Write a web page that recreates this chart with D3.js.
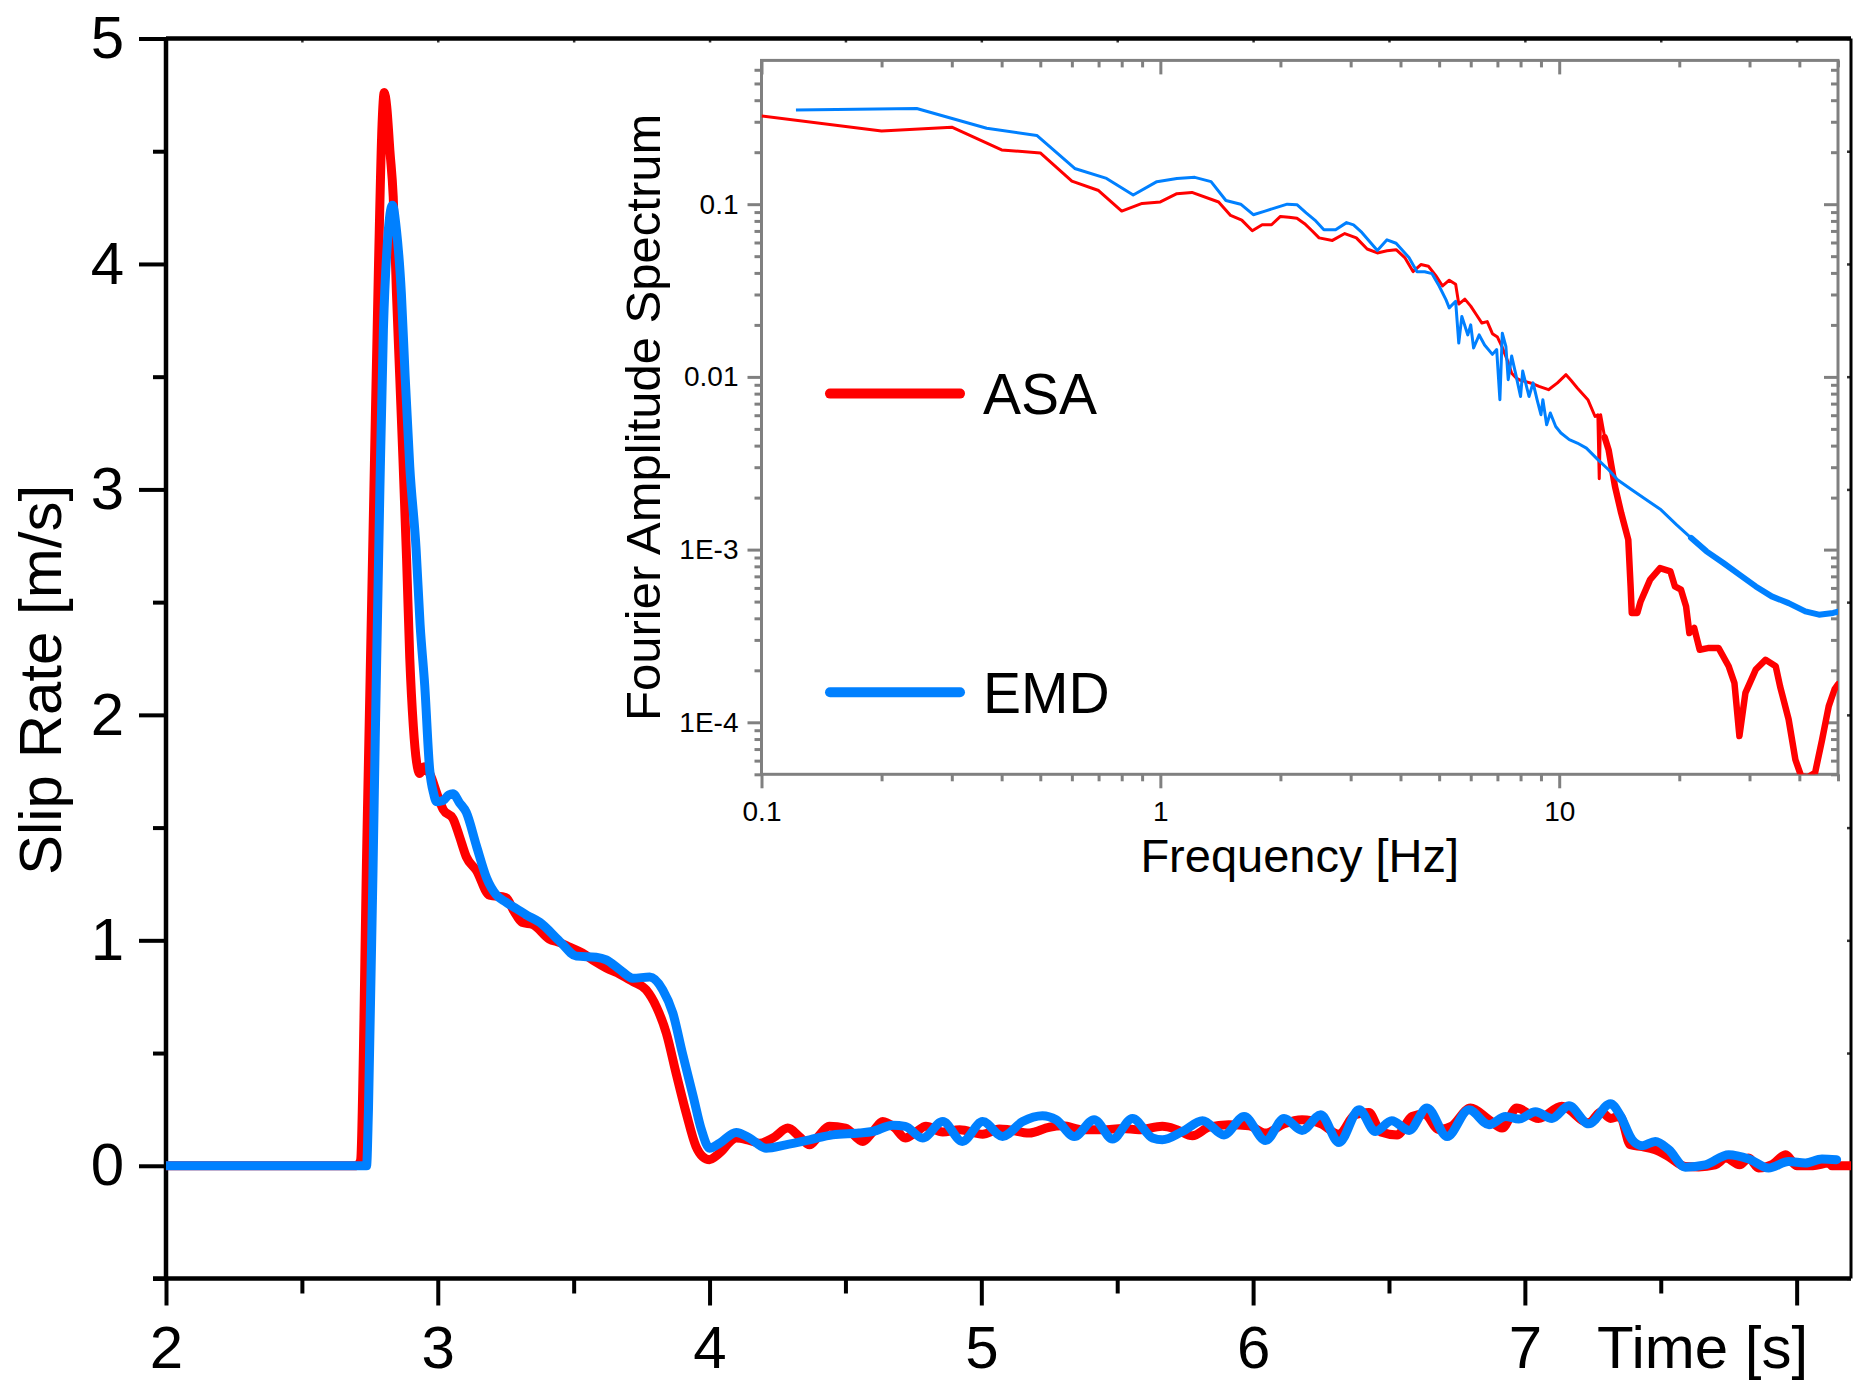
<!DOCTYPE html>
<html>
<head>
<meta charset="utf-8">
<script src="https://cdn.jsdelivr.net/npm/d3@7"></script>
<style>
  html, body { margin: 0; padding: 0; background: #fff; }
  svg { display: block; font-family: "Liberation Sans", Arial, sans-serif; }
</style>
</head>
<body>
<div id="chart"></div>
<script>
// slip rate time series [time s, slip rate m/s]
const asaSlip = [
  [2.0, 0], [2.70, 0], [2.715, 0.02], [2.74, 1.5], [2.765, 3.0], [2.782, 4.0], [2.795, 4.62],
  [2.803, 4.76], [2.812, 4.7], [2.824, 4.5], [2.836, 4.3], [2.848, 3.87], [2.86, 3.5],
  [2.872, 3.13], [2.885, 2.7], [2.897, 2.25], [2.91, 1.95], [2.922, 1.79], [2.934, 1.74],
  [2.95, 1.77], [2.97, 1.74], [3.0, 1.64], [3.02, 1.58], [3.056, 1.54], [3.08, 1.46],
  [3.105, 1.37], [3.142, 1.31], [3.19, 1.2], [3.25, 1.19], [3.28, 1.13], [3.31, 1.08],
  [3.35, 1.07], [3.41, 1.006], [3.449, 0.99], [3.485, 0.97], [3.53, 0.945], [3.58, 0.905],
  [3.62, 0.877], [3.67, 0.85], [3.718, 0.817], [3.767, 0.78], [3.804, 0.706], [3.841, 0.588],
  [3.877, 0.41], [3.914, 0.234], [3.95, 0.086], [3.975, 0.04], [4.0, 0.027], [4.02, 0.04],
  [4.043, 0.063], [4.07, 0.1], [4.098, 0.123], [4.14, 0.115], [4.184, 0.1], [4.233, 0.123],
  [4.288, 0.167], [4.33, 0.13], [4.368, 0.093], [4.4, 0.13], [4.44, 0.175], [4.5, 0.167],
  [4.564, 0.108], [4.6, 0.15], [4.637, 0.196], [4.68, 0.17], [4.72, 0.123], [4.76, 0.15],
  [4.796, 0.175], [4.858, 0.15], [4.92, 0.16], [5.005, 0.14], [5.066, 0.163], [5.1, 0.16],
  [5.176, 0.145], [5.25, 0.171], [5.3, 0.177], [5.372, 0.16], [5.446, 0.16], [5.52, 0.165],
  [5.58, 0.16], [5.666, 0.175], [5.72, 0.16], [5.777, 0.133], [5.838, 0.171], [5.91, 0.182],
  [5.985, 0.177], [6.046, 0.145], [6.114, 0.186], [6.18, 0.204], [6.25, 0.186], [6.316, 0.14],
  [6.375, 0.226], [6.426, 0.236], [6.47, 0.15], [6.53, 0.137], [6.585, 0.219], [6.63, 0.23],
  [6.684, 0.16], [6.73, 0.175], [6.8, 0.256], [6.868, 0.204], [6.916, 0.167], [6.97, 0.256],
  [7.05, 0.21], [7.136, 0.264], [7.235, 0.19], [7.28, 0.24], [7.315, 0.21], [7.35, 0.22],
  [7.388, 0.093], [7.432, 0.085], [7.48, 0.071], [7.53, 0.04], [7.59, -0.003], [7.64, -0.005],
  [7.7, 0.004], [7.74, 0.034], [7.79, 0.004], [7.824, 0.034], [7.86, -0.01], [7.91, 0.005],
  [7.96, 0.049], [8.0, 0.0], [8.06, 0.0], [8.118, 0.012], [8.13, 0.0], [8.2, 0.0]
];

const emdSlip = [
  [2.0, 0], [2.738, 0], [2.745, 0.25], [2.77, 1.9], [2.787, 3.0], [2.8, 3.71], [2.815, 4.1],
  [2.833, 4.26], [2.848, 4.15], [2.866, 3.87], [2.88, 3.5], [2.897, 3.1], [2.92, 2.74],
  [2.935, 2.4], [2.952, 2.13], [2.97, 1.76], [2.985, 1.65], [2.995, 1.615], [3.02, 1.62],
  [3.04, 1.645], [3.056, 1.65], [3.08, 1.61], [3.105, 1.567], [3.142, 1.42], [3.18, 1.275],
  [3.216, 1.2], [3.25, 1.17], [3.29, 1.14], [3.33, 1.11], [3.375, 1.08], [3.449, 0.995],
  [3.51, 0.93], [3.583, 0.925], [3.62, 0.913], [3.67, 0.87], [3.718, 0.832], [3.78, 0.837],
  [3.828, 0.78], [3.865, 0.677], [3.9, 0.5], [3.94, 0.307], [3.97, 0.16], [4.0, 0.078],
  [4.037, 0.1], [4.098, 0.148], [4.147, 0.123], [4.208, 0.078], [4.28, 0.093], [4.368, 0.115],
  [4.453, 0.137], [4.55, 0.145], [4.6, 0.152], [4.674, 0.18], [4.72, 0.175], [4.784, 0.123],
  [4.858, 0.196], [4.93, 0.108], [5.005, 0.196], [5.078, 0.13], [5.152, 0.196], [5.225, 0.222],
  [5.275, 0.204], [5.342, 0.13], [5.415, 0.204], [5.483, 0.119], [5.556, 0.21], [5.63, 0.123],
  [5.666, 0.115], [5.74, 0.152], [5.814, 0.2], [5.893, 0.137], [5.967, 0.219], [6.046, 0.112],
  [6.114, 0.21], [6.18, 0.157], [6.249, 0.226], [6.316, 0.103], [6.39, 0.248], [6.45, 0.152],
  [6.51, 0.2], [6.574, 0.157], [6.64, 0.256], [6.714, 0.13], [6.794, 0.248], [6.868, 0.182],
  [6.929, 0.219], [6.978, 0.207], [7.039, 0.24], [7.1, 0.21], [7.162, 0.266], [7.235, 0.186],
  [7.315, 0.275], [7.35, 0.226], [7.395, 0.115], [7.432, 0.089], [7.48, 0.108], [7.53, 0.071],
  [7.59, -0.006], [7.664, 0.004], [7.75, 0.049], [7.824, 0.03], [7.897, -0.01], [7.97, 0.019],
  [8.032, 0.012], [8.093, 0.03], [8.147, 0.027]
];

// Fourier amplitude spectra [frequency Hz, amplitude]
const asaSpectrum = [
  [0.1, 0.324], [0.2, 0.265], [0.3, 0.279], [0.4, 0.206], [0.5, 0.198], [0.6, 0.136],
  [0.7, 0.12], [0.8, 0.0912], [0.9, 0.101], [1.0, 0.103], [1.1, 0.115], [1.2, 0.117],
  [1.4, 0.103], [1.5, 0.0861], [1.6, 0.0809], [1.7, 0.0702], [1.8, 0.076], [1.9, 0.076],
  [2.0, 0.0849], [2.1, 0.0841], [2.2, 0.0828], [2.3, 0.0771], [2.4, 0.0702], [2.5, 0.0638],
  [2.7, 0.0617], [2.9, 0.0676], [3.1, 0.0638], [3.3, 0.055], [3.5, 0.0522], [3.7, 0.0537],
  [3.9, 0.0545], [4.1, 0.0491], [4.3, 0.0407], [4.5, 0.0447], [4.7, 0.0437], [4.9, 0.0387],
  [5.1, 0.0336], [5.3, 0.0363], [5.5, 0.0344], [5.6, 0.0264], [5.8, 0.0282], [6.0, 0.0257],
  [6.2, 0.0229], [6.4, 0.0205], [6.6, 0.0209], [6.8, 0.0178], [7.0, 0.017], [7.2, 0.0148],
  [7.4, 0.0126], [7.6, 0.0105], [7.8, 0.00986], [8.0, 0.00955], [8.2, 0.00942], [8.6, 0.00912],
  [8.9, 0.00881], [9.4, 0.00843], [9.9, 0.00923], [10.4, 0.0103], [10.7, 0.00955],
  [11.1, 0.00863], [11.8, 0.00738], [12.3, 0.0059], [12.5, 0.00603], [12.6, 0.00257],
  [12.7, 0.00603], [13.0, 0.00447], [13.3, 0.00378], [13.8, 0.00232], [14.3, 0.00163],
  [14.9, 0.00114], [15.1, 0.000612], [15.2, 0.00043], [15.7, 0.00043], [16.0, 0.000501],
  [16.9, 0.00067], [17.9, 0.000782], [19.0, 0.000748], [19.5, 0.000612], [20.2, 0.000586],
  [20.8, 0.000469], [21.2, 0.000329], [21.8, 0.000352], [22.5, 0.000263], [23.6, 0.000269],
  [25.1, 0.000269], [26.6, 0.000211], [27.5, 0.000169], [28.3, 0.0000832], [29.3, 0.000148],
  [31.1, 0.000202], [32.9, 0.00023], [34.9, 0.000211], [35.8, 0.000161], [37.6, 0.000104],
  [39.1, 0.0000607], [40.4, 0.000049], [42.0, 0.000048], [43.8, 0.000051], [45.6, 0.000079],
  [47.4, 0.000124], [49.0, 0.000155], [50.0, 0.000166]
];

const emdSpectrum = [
  [0.122, 0.351], [0.245, 0.358], [0.367, 0.275], [0.49, 0.25], [0.61, 0.161], [0.733, 0.141],
  [0.855, 0.113], [0.98, 0.135], [1.1, 0.141], [1.22, 0.143], [1.34, 0.135], [1.46, 0.105],
  [1.59, 0.1], [1.71, 0.0869], [1.83, 0.0912], [1.95, 0.0955], [2.08, 0.1], [2.2, 0.0993],
  [2.32, 0.0891], [2.44, 0.0809], [2.57, 0.0711], [2.75, 0.0711], [2.93, 0.0782],
  [3.05, 0.0759], [3.2, 0.0686], [3.5, 0.054], [3.7, 0.0622], [3.9, 0.0594], [4.2, 0.0491],
  [4.4, 0.0406], [4.6, 0.0406], [4.8, 0.0396], [5.0, 0.0336], [5.2, 0.028], [5.3, 0.0251],
  [5.5, 0.0274], [5.6, 0.0157], [5.7, 0.0224], [5.9, 0.0175], [6.0, 0.02], [6.1, 0.0147],
  [6.3, 0.0175], [6.5, 0.0153], [6.8, 0.0135], [6.97, 0.0144], [7.1, 0.00738], [7.2, 0.0179],
  [7.35, 0.015], [7.45, 0.00964], [7.6, 0.0132], [7.8, 0.0101], [8.0, 0.0077], [8.1, 0.0108],
  [8.4, 0.0077], [8.6, 0.00923], [8.8, 0.00738], [9.0, 0.00604], [9.1, 0.00738], [9.3, 0.00528],
  [9.5, 0.00618], [9.8, 0.00516], [10.1, 0.00473], [10.6, 0.00433], [11.1, 0.00414],
  [11.7, 0.00387], [12.5, 0.00332], [13.3, 0.0029], [14.0, 0.00254], [15.2, 0.00222],
  [16.5, 0.00195], [18.0, 0.0017], [19.7, 0.00139], [21.4, 0.00117], [23.4, 0.000977],
  [25.8, 0.000836], [28.3, 0.000716], [31.1, 0.000612], [34.1, 0.000536], [37.6, 0.00049],
  [41.4, 0.000439], [44.8, 0.00042], [48.6, 0.00043], [50.0, 0.000437]
];

const seriesNames = ["ASA", "EMD"];
const seriesColors = ["#ff0000", "#0080ff"];
const timeTicks = [2, 3, 4, 5, 6, 7, 8];
const slipTicks = [0, 1, 2, 3, 4, 5];
const freqTicks = [0.1, 1, 10];
const freqTickLabels = ["0.1", "1", "10"];
const ampTicks = [0.1, 0.01, 0.001, 0.0001];
const ampTickLabels = ["0.1", "0.01", "1E-3", "1E-4"];

const W = 1853, H = 1383;
const svg = d3.select("#chart").append("svg").attr("width", W).attr("height", H);
svg.append("rect").attr("width", W).attr("height", H).attr("fill", "#fff");

// ---------- main plot ----------
const plot = { left: 166, right: 1851, top: 38.5, bottom: 1278.5 };
const x = d3.scaleLinear().domain([2, 8.2]).range([plot.left, plot.right]);
const y = d3.scaleLinear().domain([-0.5, 5]).range([plot.bottom, plot.top]);

svg.append("clipPath").attr("id", "clip-main")
  .append("rect")
  .attr("x", plot.left).attr("y", plot.top)
  .attr("width", plot.right - plot.left).attr("height", plot.bottom - plot.top);

const styleAxis = (g, color, width, fontSize) => {
  g.select(".domain").remove();
  g.selectAll(".tick line").attr("stroke", color).attr("stroke-width", width);
  g.selectAll(".tick text").filter(function () { return !this.textContent; }).remove();
  g.selectAll(".tick text").attr("fill", "#000").attr("font-size", fontSize)
    .attr("font-family", "Liberation Sans, Arial, sans-serif");
};

const halfSteps = (a, b) => d3.range(a, b + 0.001, 0.5).filter((d) => Math.abs(d % 1) > 0.1);

svg.append("g").attr("transform", `translate(0,${plot.bottom})`)
  .call(d3.axisBottom(x).tickValues(timeTicks).tickSize(27).tickPadding(20)
    .tickFormat((d) => (d === 8 ? "" : String(d))))
  .call((g) => styleAxis(g, "#000", 4, 60));
svg.append("g").attr("transform", `translate(0,${plot.bottom})`)
  .call(d3.axisBottom(x).tickValues(halfSteps(2, 8)).tickSize(15).tickFormat(""))
  .call((g) => styleAxis(g, "#000", 4, 60));
svg.append("g").attr("transform", `translate(${plot.left},0)`)
  .call(d3.axisLeft(y).tickValues(slipTicks).tickSize(27).tickPadding(15)
    .tickFormat((d) => String(d)))
  .call((g) => styleAxis(g, "#000", 4, 60));
svg.append("g").attr("transform", `translate(${plot.left},0)`)
  .call(d3.axisLeft(y).tickValues(halfSteps(-0.5, 5)).tickSize(13).tickFormat(""))
  .call((g) => styleAxis(g, "#000", 4, 60));
svg.append("g").attr("transform", `translate(0,${plot.top})`)
  .call(d3.axisTop(x).tickValues(d3.range(2.5, 8.1, 0.5)).tickSize(-4).tickFormat(""))
  .call((g) => styleAxis(g, "#333", 2.5, 60));
svg.append("g").attr("transform", `translate(${plot.right},0)`)
  .call(d3.axisRight(y).tickValues(d3.range(-0.5, 5.01, 0.5)).tickSize(-4).tickFormat(""))
  .call((g) => styleAxis(g, "#333", 2.5, 60));

const frame = svg.append("g").attr("stroke", "#000").attr("stroke-width", 4.5);
frame.append("line").attr("x1", plot.left - 13).attr("x2", plot.right).attr("y1", plot.bottom).attr("y2", plot.bottom);
frame.append("line").attr("x1", plot.left).attr("x2", plot.right).attr("y1", plot.top).attr("y2", plot.top);
frame.append("line").attr("x1", plot.left).attr("x2", plot.left).attr("y1", plot.top).attr("y2", plot.bottom + 2);
frame.append("line").attr("x1", plot.right).attr("x2", plot.right).attr("y1", plot.top).attr("y2", plot.bottom)
  .attr("stroke-width", 3);

const slipLine = d3.line().x((d) => x(d[0])).y((d) => y(d[1])).curve(d3.curveMonotoneX);
const mainLines = svg.append("g").attr("clip-path", "url(#clip-main)");
[asaSlip, emdSlip].forEach((data, i) => {
  mainLines.append("path")
    .datum(data)
    .attr("fill", "none")
    .attr("stroke", seriesColors[i])
    .attr("stroke-width", 9)
    .attr("stroke-linejoin", "round")
    .attr("stroke-linecap", "round")
    .attr("d", slipLine);
});

svg.append("text")
  .attr("x", 1597).attr("y", 1368)
  .attr("font-size", 60)
  .text("Time [s]");

svg.append("text")
  .attr("transform", "translate(61,680) rotate(-90)")
  .attr("text-anchor", "middle")
  .attr("font-size", 60)
  .text("Slip Rate [m/s]");

// ---------- inset spectrum ----------
const inset = { left: 761.5, right: 1838, top: 60.4, bottom: 774.3 };
const fx = d3.scaleLog().domain([0.1, 50]).range([inset.left, inset.right]);
const fy = d3.scaleLog().domain([5e-5, 0.68]).range([inset.bottom, inset.top]);
const gray = "#808080";

svg.append("rect")
  .attr("x", inset.left).attr("y", inset.top)
  .attr("width", inset.right - inset.left).attr("height", inset.bottom - inset.top)
  .attr("fill", "#fff");

svg.append("clipPath").attr("id", "clip-inset")
  .append("rect")
  .attr("x", inset.left).attr("y", inset.top)
  .attr("width", inset.right - inset.left).attr("height", inset.bottom - inset.top);

const isMajor = (list) => (d) => list.some((m) => Math.abs(m - d) / m < 1e-6);
const fxMinor = fx.ticks().filter((d) => !isMajor(freqTicks)(d));
const fyMinor = fy.ticks().filter((d) => !isMajor(ampTicks)(d));

svg.append("g").attr("transform", `translate(0,${inset.bottom})`)
  .call(d3.axisBottom(fx).tickValues(freqTicks).tickSize(14).tickPadding(13)
    .tickFormat((d, i) => freqTickLabels[i]))
  .call((g) => styleAxis(g, gray, 3, 28));
svg.append("g").attr("transform", `translate(0,${inset.bottom})`)
  .call(d3.axisBottom(fx).tickValues(fxMinor).tickSize(7).tickFormat(""))
  .call((g) => styleAxis(g, gray, 3, 28));
svg.append("g").attr("transform", `translate(0,${inset.top})`)
  .call(d3.axisTop(fx).tickValues(freqTicks).tickSize(-14).tickFormat(""))
  .call((g) => styleAxis(g, gray, 3, 28));
svg.append("g").attr("transform", `translate(0,${inset.top})`)
  .call(d3.axisTop(fx).tickValues(fxMinor).tickSize(-7).tickFormat(""))
  .call((g) => styleAxis(g, gray, 3, 28));
svg.append("g").attr("transform", `translate(${inset.left},0)`)
  .call(d3.axisLeft(fy).tickValues(ampTicks).tickSize(14).tickPadding(9)
    .tickFormat((d, i) => ampTickLabels[i]))
  .call((g) => styleAxis(g, gray, 3, 28));
svg.append("g").attr("transform", `translate(${inset.left},0)`)
  .call(d3.axisLeft(fy).tickValues(fyMinor).tickSize(7).tickFormat(""))
  .call((g) => styleAxis(g, gray, 3, 28));
svg.append("g").attr("transform", `translate(${inset.right},0)`)
  .call(d3.axisRight(fy).tickValues(ampTicks).tickSize(-14).tickFormat(""))
  .call((g) => styleAxis(g, gray, 3, 28));
svg.append("g").attr("transform", `translate(${inset.right},0)`)
  .call(d3.axisRight(fy).tickValues(fyMinor).tickSize(-7).tickFormat(""))
  .call((g) => styleAxis(g, gray, 3, 28));

svg.append("rect")
  .attr("x", inset.left).attr("y", inset.top)
  .attr("width", inset.right - inset.left).attr("height", inset.bottom - inset.top)
  .attr("fill", "none").attr("stroke", gray).attr("stroke-width", 3);

// the high-frequency part of each spectrum is very jagged, drawn as a thicker band
const denseFrom = [13, 21];
const denseWidth = [6.5, 6];
const specLine = d3.line().x((d) => fx(d[0])).y((d) => fy(d[1]));
const specLines = svg.append("g").attr("clip-path", "url(#clip-inset)");
[asaSpectrum, emdSpectrum].forEach((data, i) => {
  specLines.append("path")
    .datum(data)
    .attr("fill", "none")
    .attr("stroke", seriesColors[i])
    .attr("stroke-width", 3)
    .attr("stroke-linejoin", "round")
    .attr("d", specLine);
  specLines.append("path")
    .datum(data.filter((d) => d[0] >= denseFrom[i]))
    .attr("fill", "none")
    .attr("stroke", seriesColors[i])
    .attr("stroke-width", denseWidth[i])
    .attr("stroke-linejoin", "round")
    .attr("stroke-linecap", "round")
    .attr("d", specLine);
});

svg.append("text")
  .attr("x", (inset.left + inset.right) / 2).attr("y", 872)
  .attr("text-anchor", "middle")
  .attr("font-size", 47)
  .text("Frequency [Hz]");

svg.append("text")
  .attr("transform", `translate(660,${(inset.top + inset.bottom) / 2}) rotate(-90)`)
  .attr("text-anchor", "middle")
  .attr("font-size", 49)
  .text("Fourier Amplitude Spectrum");

// legend
const legendY = [393.6, 692.3];
const legend = svg.append("g");
seriesNames.forEach((name, i) => {
  legend.append("line")
    .attr("x1", 830).attr("x2", 960)
    .attr("y1", legendY[i]).attr("y2", legendY[i])
    .attr("stroke", seriesColors[i])
    .attr("stroke-width", 10)
    .attr("stroke-linecap", "round");
  legend.append("text")
    .attr("x", 983).attr("y", legendY[i] + 20.5)
    .attr("font-size", 57)
    .text(name);
});
</script>
</body>
</html>
